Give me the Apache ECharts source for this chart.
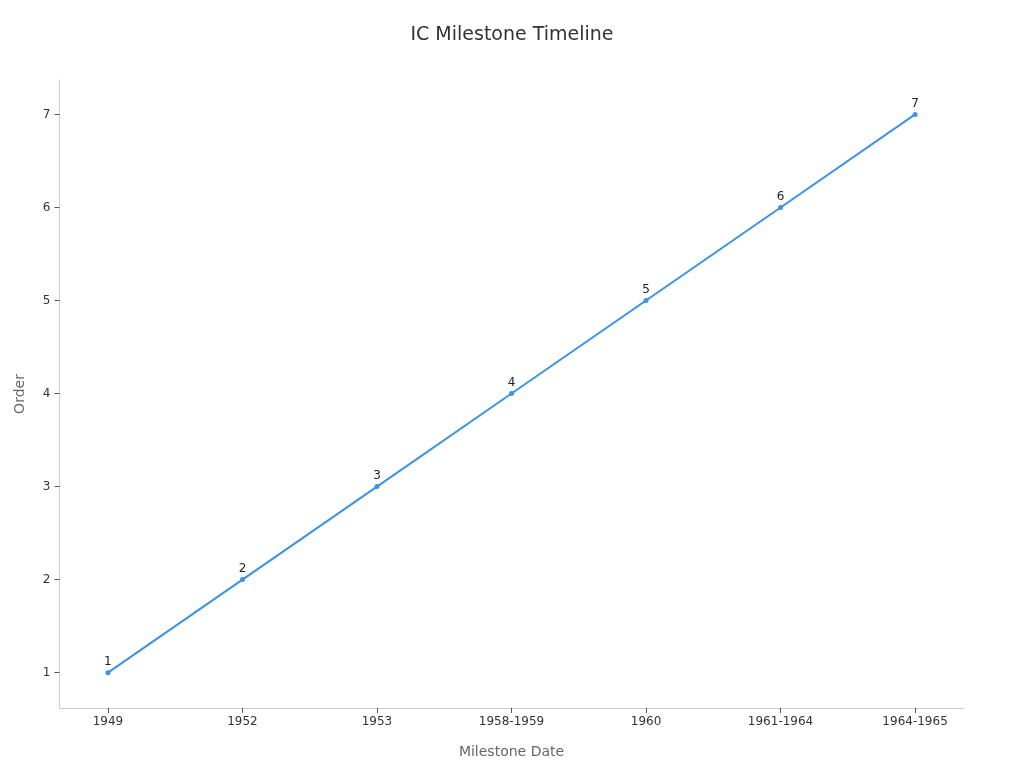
<!DOCTYPE html>
<html>
<head>
<meta charset="utf-8">
<title>IC Milestone Timeline</title>
<script src="https://cdn.jsdelivr.net/npm/echarts@6/dist/echarts.min.js"></script>
<style>
  html, body { margin: 0; padding: 0; background: #fff; }
  #chart { width: 1024px; height: 768px; }
</style>
</head>
<body>
<div id="chart"></div>
<script>
// 里程碑日期与顺序
const milestoneDates = ['1949', '1952', '1953', '1958-1959', '1960', '1961-1964', '1964-1965'];
const orderValues = [1, 2, 3, 4, 5, 6, 7];
const orderTicks = [1, 2, 3, 4, 5, 6, 7];

document.addEventListener('DOMContentLoaded', function() {
    const chartDom = document.getElementById('chart');
    const myChart = echarts.init(chartDom);
    const font = 'DejaVu Sans';
    const positions = milestoneDates.map((d, i) => i);

    const option = {
        backgroundColor: '#fff',
        textStyle: { fontFamily: font },
        title: {
            text: 'IC Milestone Timeline',
            left: 'center',
            top: 21,
            textStyle: { fontFamily: font, fontSize: 19, fontWeight: 'normal', color: '#333' }
        },
        grid: { left: 59.5, right: 60.5, top: 80, bottom: 60, outerBoundsMode: 'none', containLabel: false },
        xAxis: {
            type: 'value',
            min: -0.36,
            max: 6.36,
            name: 'Milestone Date',
            nameLocation: 'middle',
            nameGap: 37,
            nameTextStyle: { fontFamily: font, fontSize: 14, color: '#666' },
            axisLine: { show: true, onZero: false, lineStyle: { color: '#ccc' } },
            axisTick: { show: true, customValues: positions, length: 5, lineStyle: { color: '#555' } },
            axisLabel: {
                customValues: positions,
                fontFamily: font, fontSize: 12, color: '#333', margin: 8,
                formatter: function(v) { return milestoneDates[Math.round(v)]; }
            },
            splitLine: { show: false }
        },
        yAxis: {
            type: 'value',
            min: 0.62,
            max: 7.37,
            name: 'Order',
            nameLocation: 'middle',
            nameGap: 32,
            nameTextStyle: { fontFamily: font, fontSize: 14, color: '#666' },
            axisLine: { show: true, onZero: false, lineStyle: { color: '#ccc' } },
            axisTick: { show: true, customValues: orderTicks, length: 5, lineStyle: { color: '#555' } },
            axisLabel: {
                customValues: orderTicks,
                fontFamily: font, fontSize: 12, color: '#333', margin: 9
            },
            splitLine: { show: false }
        },
        series: [
            {
                type: 'line',
                data: orderValues.map((v, i) => [i, v]),
                symbol: 'circle',
                symbolSize: 5,
                itemStyle: { color: '#3a93e6' },
                lineStyle: { color: '#3a93e6', width: 2 },
                label: {
                    show: true,
                    position: 'top',
                    distance: 2,
                    fontFamily: font, fontSize: 12, color: '#222',
                    formatter: function(p) { return p.value[1]; }
                }
            }
        ]
    };
    myChart.setOption(option);
});
</script>
</body>
</html>
